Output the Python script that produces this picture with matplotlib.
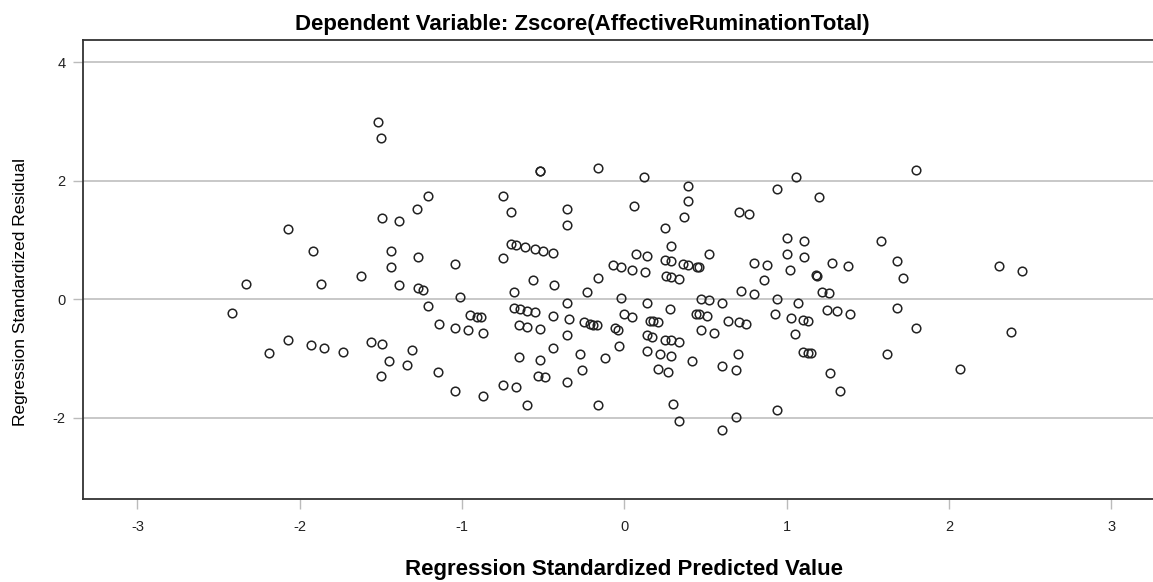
import matplotlib
matplotlib.use('Agg')
import matplotlib.pyplot as plt

plt.rcParams['font.family'] = ['Liberation Sans', 'DejaVu Sans']
plt.rcParams['axes.unicode_minus'] = False

# standardized predicted values (x) and standardized residuals (y)
pred = [-2.07, -1.92, -2.33, -1.87, -2.42, -2.19, -2.07, -1.93, -1.85, -1.73,
        -1.52, -1.50, -1.21, -1.28, -1.49, -1.39, -1.44, -1.27, -1.04, -1.44,
        -1.62, -1.39, -1.27, -1.24, -1.01, -1.21, -0.95, -0.91, -1.14, -1.04,
        -0.96, -1.56, -1.49, -1.31, -1.45, -1.34, -1.50, -1.15, -1.04,
        -0.88, -0.87, -0.87, -0.52, -0.52, -0.16, -0.75, -0.70, -0.35, -0.35,
        -0.70, -0.67, -0.61, -0.55, -0.50, -0.44, -0.75, -0.56, -0.43, -0.16,
        -0.23, -0.68, -0.35, -0.68, -0.64, -0.60, -0.55, -0.44, -0.34, -0.25,
        -0.21, -0.19, -0.17, -0.65, -0.60, -0.52, -0.35, -0.44, -0.27, -0.12,
        -0.65, -0.52, -0.26, -0.53, -0.49, -0.35, -0.75, -0.67, -0.60, -0.16,
        0.12, 0.39, 0.06, 0.39, 0.37, 0.25, 0.29, 0.52, 0.07, 0.14,
        -0.07, -0.02, 0.05, 0.13, 0.25, 0.29, 0.36, 0.39, 0.45, 0.46,
        0.26, 0.29, 0.34, -0.02, 0.14, 0.28, 0.47, 0.52, 0.60, -0.00,
        0.05, 0.16, 0.18, 0.21, 0.44, 0.46, 0.51, 0.64, -0.06, -0.04,
        0.14, 0.17, 0.25, 0.29, 0.34, 0.47, 0.55, -0.03, 0.14, 0.22,
        0.29, 0.42, 0.21, 0.27, 0.60, 0.30, 0.34, 0.60,
        1.06, 0.94, 1.20, 0.71, 0.77, 1.00, 1.11, 1.00, 1.11, 0.80,
        0.88, 1.28, 1.38, 1.02, 1.18, 1.19, 0.86, 0.72, 0.80, 1.22,
        1.26, 0.94, 1.07, 1.25, 1.31, 1.39, 0.93, 1.03, 1.10, 1.13,
        0.71, 0.75, 1.05, 1.10, 1.13, 1.15, 0.70, 0.69, 1.27, 1.33,
        0.94, 0.69,
        1.80, 1.58, 1.68, 1.72, 2.31, 1.68, 1.80, 1.62, 2.07, 2.45, 2.38]

resid = [1.18, 0.82, 0.26, 0.26, -0.23, -0.91, -0.69, -0.78, -0.82, -0.89,
         3.00, 2.72, 1.75, 1.53, 1.38, 1.32, 0.81, 0.72, 0.59, 0.55,
         0.39, 0.25, 0.19, 0.16, 0.04, -0.11, -0.27, -0.30, -0.42, -0.49,
         -0.52, -0.72, -0.76, -0.85, -1.05, -1.11, -1.29, -1.22, -1.55,
         -0.30, -0.57, -1.64, 2.16, 2.17, 2.22, 1.75, 1.47, 1.53, 1.26,
         0.93, 0.91, 0.89, 0.85, 0.82, 0.78, 0.69, 0.32, 0.25, 0.36,
         0.13, 0.12, -0.06, -0.15, -0.17, -0.19, -0.22, -0.29, -0.34, -0.39,
         -0.42, -0.43, -0.43, -0.44, -0.47, -0.50, -0.60, -0.82, -0.92, -0.99,
         -0.97, -1.03, -1.19, -1.30, -1.32, -1.40, -1.44, -1.48, -1.79, -1.78,
         2.07, 1.92, 1.57, 1.66, 1.39, 1.20, 0.90, 0.77, 0.76, 0.73,
         0.58, 0.55, 0.50, 0.46, 0.66, 0.64, 0.60, 0.58, 0.55, 0.54,
         0.39, 0.38, 0.34, 0.02, -0.07, -0.16, 0.01, -0.02, -0.07, -0.25,
         -0.30, -0.36, -0.36, -0.38, -0.24, -0.25, -0.29, -0.36, -0.49, -0.51,
         -0.61, -0.63, -0.68, -0.69, -0.72, -0.52, -0.57, -0.79, -0.87, -0.92,
         -0.96, -1.04, -1.18, -1.22, -1.13, -1.77, -2.06, -2.21,
         2.07, 1.87, 1.72, 1.47, 1.44, 1.04, 0.98, 0.77, 0.71, 0.62,
         0.58, 0.61, 0.56, 0.50, 0.41, 0.40, 0.32, 0.14, 0.09, 0.12,
         0.10, 0.00, -0.07, -0.18, -0.20, -0.25, -0.25, -0.32, -0.35, -0.37,
         -0.39, -0.42, -0.59, -0.89, -0.90, -0.91, -0.93, -1.19, -1.25, -1.55,
         -1.87, -1.99,
         2.19, 0.98, 0.65, 0.36, 0.56, -0.15, -0.49, -0.92, -1.17, 0.48, -0.55]

xticks = [-3, -2, -1, 0, 1, 2, 3]
yticks = [-2, 0, 2, 4]

W, H = 1153, 582
fig = plt.figure(figsize=(W / 100, H / 100), dpi=100)
ax = fig.add_axes([82.7 / W, 1 - 499 / H, (W - 82.7) / W, (499 - 40) / H])

ax.plot(pred, resid, 'o', ls='none', mfc='none', mec='#222222', ms=6.2, mew=1.1)

ax.set_xlim(-3.337, 3.258)
ax.set_ylim(-3.373, 4.380)
ax.set_xticks(xticks)
ax.set_yticks(yticks)
ax.yaxis.grid(True, color='#c8c8c8', lw=1.4)
ax.set_axisbelow(True)

for s in ['left', 'top', 'bottom']:
    ax.spines[s].set_color('#333333')
    ax.spines[s].set_linewidth(1.3)
ax.spines['right'].set_visible(False)

ax.tick_params(axis='both', direction='out', length=7, width=1.0, color='#bbbbbb',
               labelsize=10.5, labelcolor='#222222')
ax.tick_params(axis='y', pad=5.5)
ax.tick_params(axis='x', pad=8)

ax.set_title('Dependent Variable: Zscore(AffectiveRuminationTotal)', fontsize=16,
             fontweight='bold', x=(582.5 - 82.7) / (W - 82.7), y=1.0, pad=7)

ax.set_xlabel('Regression Standardized Predicted Value', fontsize=16, fontweight='bold')
ax.xaxis.set_label_coords(624.3 / W, 1 - 575 / H, transform=fig.transFigure)
ax.xaxis.label.set_va('baseline')

ax.set_ylabel('Regression Standardized Residual', fontsize=12.5)
ax.yaxis.set_label_coords(21 / W, 1 - 291.5 / H, transform=fig.transFigure)
ax.yaxis.label.set_va('center')

fig.savefig('out.png', dpi=100)
